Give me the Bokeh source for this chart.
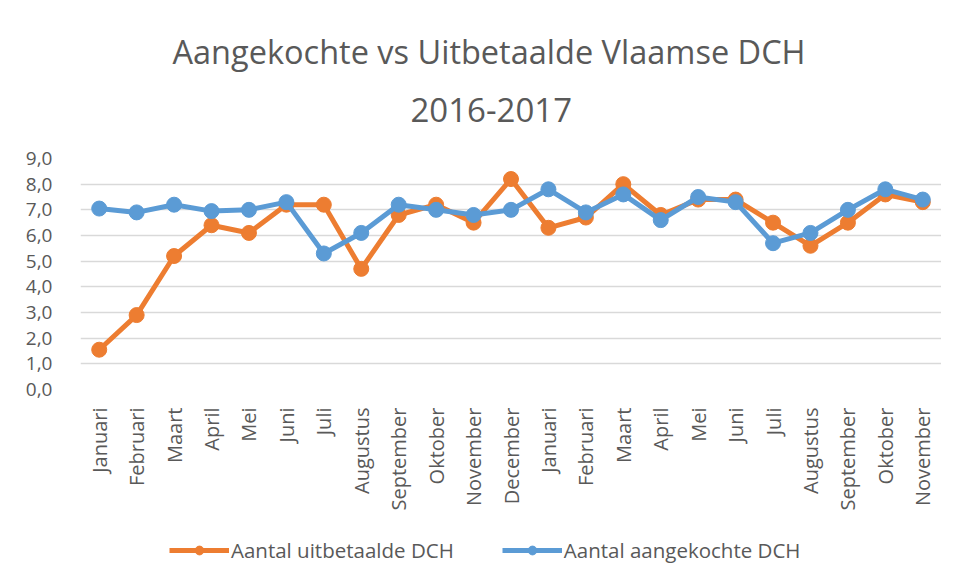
from bokeh.plotting import figure
from bokeh.models import Range1d, FixedTicker, Legend, LegendItem, Title
from bokeh.layouts import column
from bokeh.embed import file_html
from bokeh.resources import INLINE
import math

months = ["Januari", "Februari", "Maart", "April", "Mei", "Juni", "Juli", "Augustus",
          "September", "Oktober", "November", "December",
          "Januari", "Februari", "Maart", "April", "Mei", "Juni", "Juli", "Augustus",
          "September", "Oktober", "November"]
uitbetaald = [1.55, 2.9, 5.2, 6.4, 6.1, 7.2, 7.2, 4.7, 6.8, 7.2, 6.5, 8.2,
              6.3, 6.7, 8.0, 6.8, 7.4, 7.4, 6.5, 5.6, 6.5, 7.6, 7.3]
aangekocht = [7.05, 6.9, 7.2, 6.95, 7.0, 7.3, 5.3, 6.1, 7.2, 7.0, 6.8, 7.0,
              7.8, 6.9, 7.6, 6.6, 7.5, 7.3, 5.7, 6.1, 7.0, 7.8, 7.4]
y_ticks = [0, 1, 2, 3, 4, 5, 6, 7, 8, 9]
y_tick_labels = ["0,0", "1,0", "2,0", "3,0", "4,0", "5,0", "6,0", "7,0", "8,0", "9,0"]
title_line1 = "Aangekochte vs Uitbetaalde Vlaamse DCH"
title_line2 = "2016-2017"
series_names = ["Aantal uitbetaalde DCH", "Aantal aangekochte DCH"]

ORANGE = "#ED7D31"
BLUE = "#5B9BD5"
GREY = "#595959"
FONT = "Open Sans"

xs = list(range(len(months)))

p = figure(width=941, height=525, output_backend="svg", toolbar_location=None,
           x_range=Range1d(-0.5, len(months) - 0.5), y_range=Range1d(0, 9),
           min_border_left=80, min_border_right=0, min_border_top=158, min_border_bottom=136)
p.outline_line_color = None
p.background_fill_color = "white"
p.border_fill_color = "white"

# titles: first added is closest to the plot
p.add_layout(Title(text=title_line2, align="left", text_font=FONT, text_font_size="33px",
                   text_color=GREY, text_font_style="normal", standoff=73, offset=330), "above")
p.add_layout(Title(text=title_line1, align="left", text_font=FONT, text_font_size="32.5px",
                   text_color=GREY, text_font_style="normal", standoff=-28, offset=92), "above")

p.line(xs, uitbetaald, line_color=ORANGE, line_width=5)
p.scatter(xs, uitbetaald, size=15, fill_color=ORANGE, line_color=ORANGE)
p.line(xs, aangekocht, line_color=BLUE, line_width=5)
p.scatter(xs, aangekocht, size=15, fill_color=BLUE, line_color=BLUE)

p.xaxis.ticker = FixedTicker(ticks=xs)
p.xaxis.major_label_overrides = {i: m for i, m in zip(xs, months)}
p.xaxis.major_label_orientation = math.pi / 2
p.xaxis.major_label_text_font = FONT
p.xaxis.major_label_text_font_size = "20px"
p.xaxis.major_label_text_color = GREY
p.xaxis.major_label_standoff = 12
p.xaxis.axis_line_color = None
p.xaxis.major_tick_line_color = None
p.xaxis.minor_tick_line_color = None

p.yaxis.ticker = FixedTicker(ticks=y_ticks)
p.yaxis.major_label_overrides = {t: l for t, l in zip(y_ticks, y_tick_labels)}
p.yaxis.major_label_text_font = FONT
p.yaxis.major_label_text_font_size = "19px"
p.yaxis.major_label_text_color = GREY
p.yaxis.major_label_standoff = 22
p.yaxis.axis_line_color = None
p.yaxis.major_tick_line_color = None
p.yaxis.minor_tick_line_color = None

p.xgrid.grid_line_color = None
p.ygrid.grid_line_color = "#D9D9D9"
p.ygrid.grid_line_width = 1.3

# legend strip (series drawn out of its view, only their legend glyphs show)
lg = figure(width=941, height=50, output_backend="svg", toolbar_location=None,
            x_range=Range1d(100, 101), y_range=Range1d(100, 101),
            x_axis_location=None, y_axis_location=None,
            min_border_left=0, min_border_right=0, min_border_top=0, min_border_bottom=0)
lg.outline_line_color = None
lg.xgrid.grid_line_color = None
lg.ygrid.grid_line_color = None
l1 = lg.line(xs, uitbetaald, line_color=ORANGE, line_width=5)
s1 = lg.scatter(xs, uitbetaald, size=15, fill_color=ORANGE, line_color=ORANGE)
l2 = lg.line(xs, aangekocht, line_color=BLUE, line_width=5)
s2 = lg.scatter(xs, aangekocht, size=15, fill_color=BLUE, line_color=BLUE)
legend = Legend(items=[LegendItem(label=series_names[0], renderers=[l1, s1]),
                       LegendItem(label=series_names[1], renderers=[l2, s2])],
                orientation="horizontal", location=(89, 11),
                label_text_font=FONT, label_text_font_size="20.5px", label_text_color=GREY,
                glyph_width=60, glyph_height=22, label_standoff=2, spacing=48,
                border_line_color=None, background_fill_alpha=0, margin=0, padding=6)
lg.add_layout(legend)

open("out.html", "w").write(file_html(column(p, lg, spacing=0), INLINE))
